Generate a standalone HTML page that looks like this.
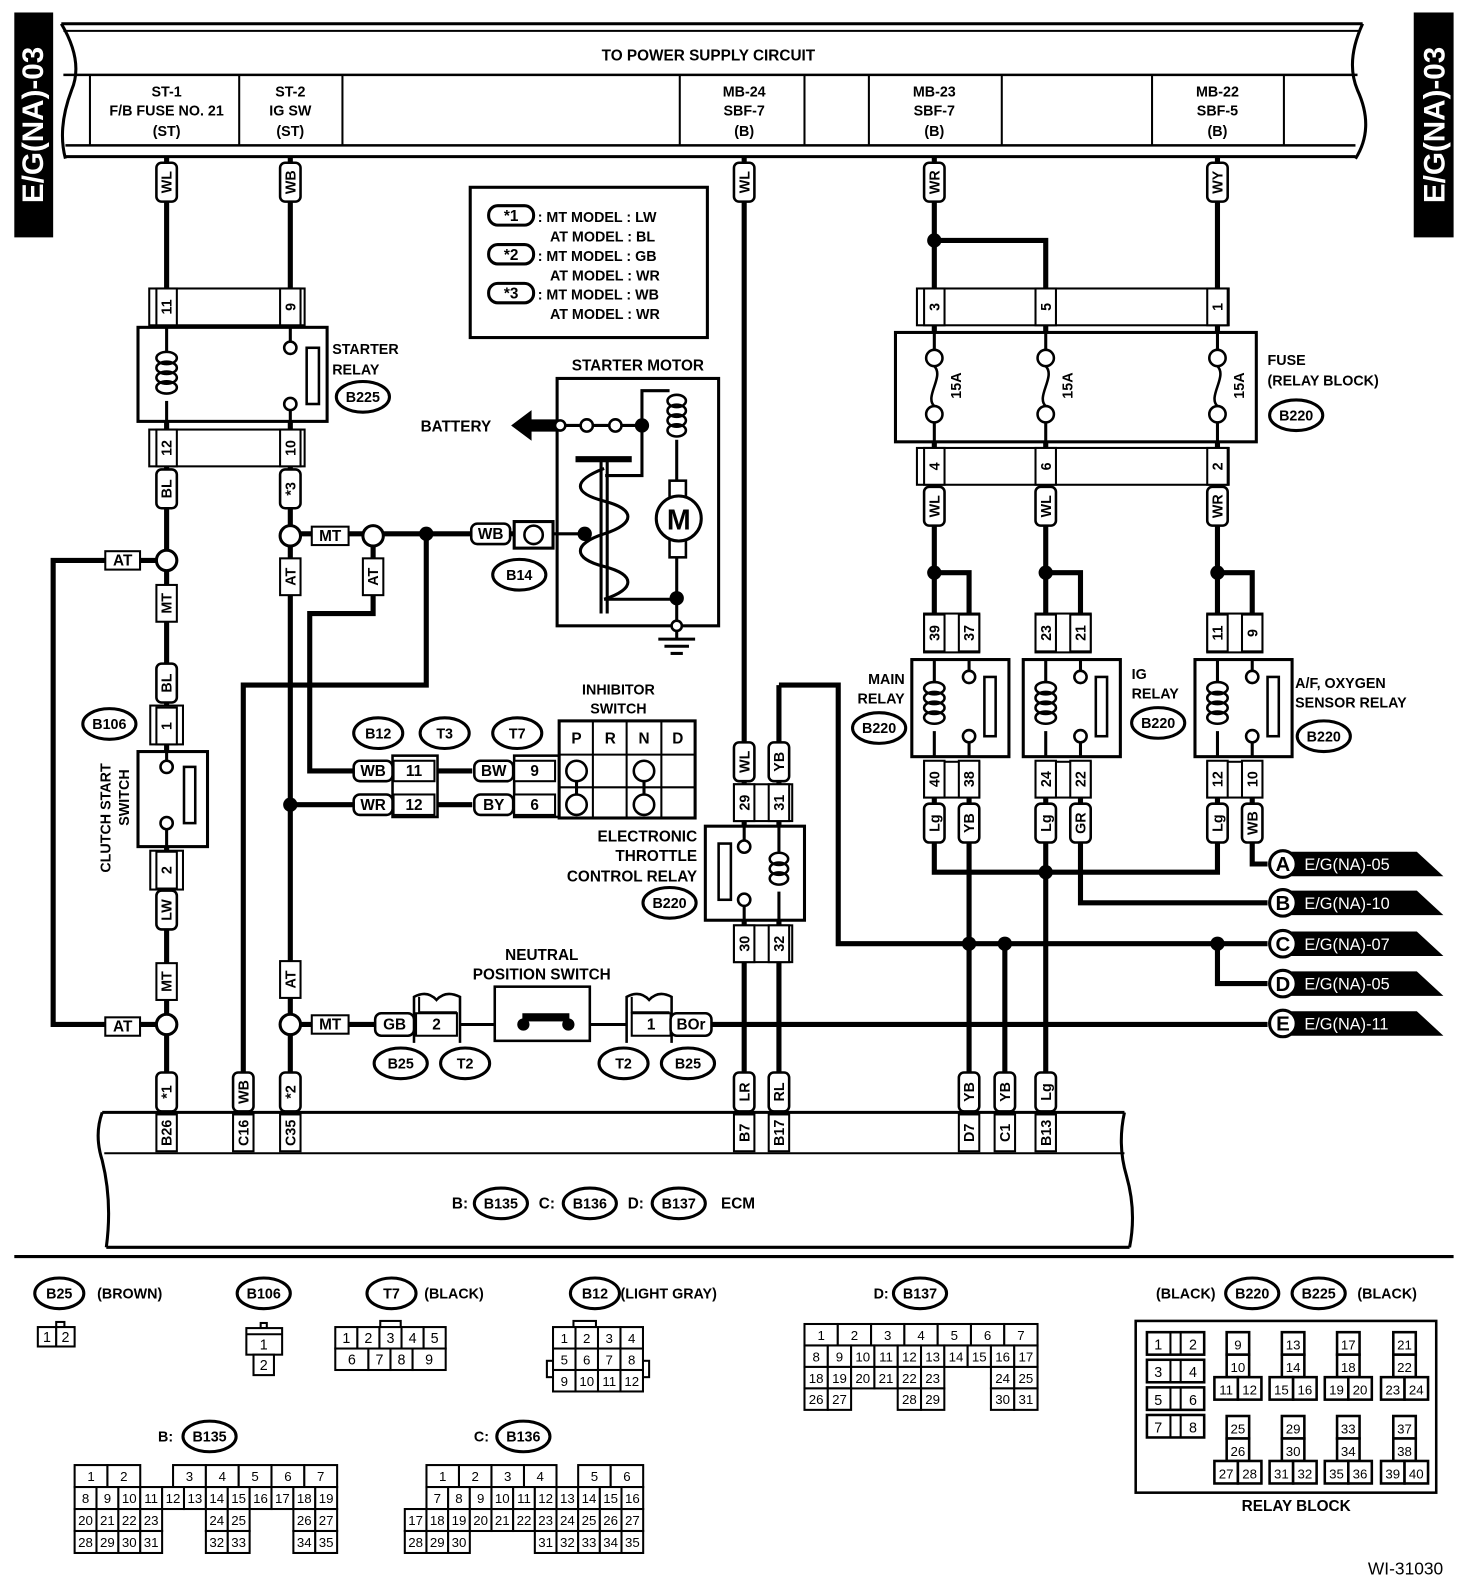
<!DOCTYPE html>
<html><head><meta charset="utf-8">
<style>
html,body{margin:0;padding:0;background:#fff;}
svg{display:block;}
text{font-family:"Liberation Sans",Arial,sans-serif;font-weight:bold;fill:#000;}
</style></head>
<body>
<svg id="s" xmlns="http://www.w3.org/2000/svg" width="1472" height="1590" viewBox="0 0 1440 1555">
<rect x="0" y="0" width="1440" height="1555" fill="#fff"/>
</svg>
<script>
const NS='http://www.w3.org/2000/svg';
const S=document.getElementById('s');
function el(t,a,txt){const e=document.createElementNS(NS,t);for(const k in a)e.setAttribute(k,a[k]);if(txt!=null)e.textContent=txt;S.appendChild(e);return e;}
function P(pts,w){el('polyline',{points:pts,fill:'none',stroke:'#000','stroke-width':w||5});}
function PA(d,w,f){el('path',{d:d,fill:f||'none',stroke:'#000','stroke-width':w||2});}
function T(x,y,t,o){el('text',Object.assign({x:x,y:y,'text-anchor':'middle','font-size':14},o||{}),t);}
function R(x,y,w,h,sw,f){el('rect',{x:x,y:y,width:w,height:h,fill:f||'#fff',stroke:'#000','stroke-width':sw==null?2:sw});}
function V(x,y,t,w,h){w=w||20;h=h||38;el('rect',{x:x-w/2,y:y-h/2,width:w,height:h,rx:5,fill:'#fff',stroke:'#000','stroke-width':2.5});el('text',{transform:'translate('+x+','+y+') rotate(-90)','text-anchor':'middle',dy:5,'font-size':14},t);}
function PV(x,y,t){R(x-10,y-18,20,36,2);el('text',{transform:'translate('+x+','+y+') rotate(-90)','text-anchor':'middle',dy:5,'font-size':14},t);}
function H(x,y,t,w,h){w=w||38;h=h||20;el('rect',{x:x-w/2,y:y-h/2,width:w,height:h,rx:6,fill:'#fff',stroke:'#000','stroke-width':2.5});T(x,y+5,t,{'font-size':15});}
function HB(x,y,t,w,h){w=w||38;h=h||20;R(x-w/2,y-h/2,w,h,2);T(x,y+5,t,{'font-size':15});}
function O(x,y,t,rx,ry){rx=rx||24;ry=ry||15;el('ellipse',{cx:x,cy:y,rx:rx,ry:ry,fill:'#fff',stroke:'#000','stroke-width':3});T(x,y+5,t,{'font-size':14});}
function D(x,y,r){el('circle',{cx:x,cy:y,r:r||7,fill:'#000'});}
function C(x,y,r,sw){el('circle',{cx:x,cy:y,r:r||10,fill:'#fff',stroke:'#000','stroke-width':sw||3});}
function coil(x,y0,n,rx,ry){for(let i=0;i<n;i++)el('ellipse',{cx:x,cy:y0+i*ry*1.6,rx:rx,ry:ry,fill:'none',stroke:'#000','stroke-width':2.5});}

/* ===== top bar ===== */
PA('M60,23 L1333,23',3);PA('M62,30 L1330,30',2);
PA('M62,73 L1328,73',2.5);PA('M64,142 L1326,142',2.5);PA('M64,153 L1326,153',3);
PA('M60,23 Q82,60 70,88 Q56,125 64,155',3);
PA('M1333,23 Q1316,60 1328,88 Q1345,125 1326,155',3);
T(693,59,'TO POWER SUPPLY CIRCUIT',{'font-size':15});
[88,234,335,665,787,850,980,1127,1256].forEach(x=>PA('M'+x+',73 L'+x+',142',2));
[[163,'ST-1','F/B FUSE NO. 21','(ST)'],[284,'ST-2','IG SW','(ST)'],[728,'MB-24','SBF-7','(B)'],[914,'MB-23','SBF-7','(B)'],[1191,'MB-22','SBF-5','(B)']].forEach(a=>{T(a[0],94,a[1]);T(a[0],113,a[2]);T(a[0],133,a[3]);});
/* side tags */
R(14,12,38,220,0,'#000');R(1383,12,39,220,0,'#000');
el('text',{transform:'translate(42,122) rotate(-90)','text-anchor':'middle','font-size':29,style:'fill:#fff'},'E/G(NA)-03');
el('text',{transform:'translate(1413,122) rotate(-90)','text-anchor':'middle','font-size':29,style:'fill:#fff'},'E/G(NA)-03');

/* ===== wires ===== */
P('163,153 163,1090');P('284,153 284,1090');P('728,153 728,1090');
P('914,153 914,600');P('1191,153 1191,600');P('914,235 1023,235 1023,600');
P('163,548 52,548 52,1002 163,1002');
P('284,522 505,522');
P('365,522 365,600 303,600 303,754 345,754');
P('417,522 417,670 238,670 238,1090');
P('284,787 345,787');
P('427,754 462,754');P('427,787 462,787');
P('284,1002 368,1002');P('450,1002 613,1002',3);P('697,1002 1240,1002');
P('762,670 762,1090');P('762,670 820,670 820,923 1240,923');
P('914,560 948,560 948,600');P('1023,560 1057,560 1057,600');P('1191,560 1225,560 1225,600');
P('914,780 914,853 1191,853 1191,780');P('1023,780 1023,1090');P('948,780 948,1090');P('983,923 983,1090');
P('1057,780 1057,883 1240,883');P('1225,780 1225,845 1240,845');P('1191,923 1191,962 1240,962');

/* ===== wire labels top ===== */
V(163,178,'WL');V(284,178,'WB');V(728,178,'WL');V(914,178,'WR');V(1191,178,'WY');

/* ===== starter relay ===== */
R(146,282,152,36,2);PV(163,300,'11');PV(284,300,'9');
R(135,320,185,92,3);
P('163,320 163,345',3);coil(163,350,4,10,6);P('163,392 163,412',3);
P('284,320 284,334',3);C(284,340,6,2.5);C(284,395,6,2.5);P('284,401 284,412',3);R(300,340,12,55,2.5);
R(146,420,152,36,2);PV(163,438,'12');PV(284,438,'10');
T(325,346,'STARTER',{'text-anchor':'start'});T(325,366,'RELAY',{'text-anchor':'start'});O(355,388,'B225',26,15);

/* legend */
R(460,183,232,147,3);
[['*1','LW','BL',212],['*2','GB','WR',250],['*3','WB','WR',288]].forEach(a=>{
 el('rect',{x:478,y:a[3]-11,width:44,height:19,rx:9,fill:'#fff',stroke:'#000','stroke-width':3});
 T(500,a[3]+4,a[0],{'font-size':15});
 T(526,a[3]+5,': MT MODEL  : '+a[1],{'text-anchor':'start','font-size':14});
 T(538,a[3]+24,'AT MODEL  : '+a[2],{'text-anchor':'start','font-size':14});
});

/* under relay */
V(163,478,'BL');V(284,478,'*3');
HB(120,548,'AT',34,18);HB(120,1004,'AT',34,18);
C(163,548);C(163,1002);C(284,524);C(365,524);C(284,1002);
HB(323,524,'MT',36,18);HB(323,1002,'MT',36,18);
el('rect',{x:274,y:546,width:20,height:36,fill:'#fff',stroke:'#000','stroke-width':2});el('text',{transform:'translate(284,564) rotate(-90)','text-anchor':'middle',dy:5,'font-size':14},'AT');
el('rect',{x:355,y:546,width:20,height:36,fill:'#fff',stroke:'#000','stroke-width':2});el('text',{transform:'translate(365,564) rotate(-90)','text-anchor':'middle',dy:5,'font-size':14},'AT');
el('rect',{x:274,y:940,width:20,height:36,fill:'#fff',stroke:'#000','stroke-width':2});el('text',{transform:'translate(284,958) rotate(-90)','text-anchor':'middle',dy:5,'font-size':14},'AT');
el('rect',{x:153,y:572,width:20,height:36,fill:'#fff',stroke:'#000','stroke-width':2});el('text',{transform:'translate(163,590) rotate(-90)','text-anchor':'middle',dy:5,'font-size':14},'MT');
el('rect',{x:153,y:942,width:20,height:36,fill:'#fff',stroke:'#000','stroke-width':2});el('text',{transform:'translate(163,960) rotate(-90)','text-anchor':'middle',dy:5,'font-size':14},'MT');
D(417,522);D(284,787);
H(480,522,'WB',38,20);
R(503,510,38,26,3);C(522,523,9,2.5);
O(508,562,'B14',26,15);

/* clutch start switch */
V(163,668,'BL');
R(147,690,32,38,2);PV(163,710,'1');
R(135,735,68,93,3);
P('163,735 163,744',3);C(163,750,6,2.5);C(163,805,6,2.5);P('163,811 163,828',3);R(180,750,11,55,2.5);
R(147,832,32,38,2);PV(163,851,'2');
V(163,890,'LW');
O(107,708,'B106',26,15);
el('text',{transform:'translate(108,800) rotate(-90)','text-anchor':'middle','font-size':14},'CLUTCH START');
el('text',{transform:'translate(126,780) rotate(-90)','text-anchor':'middle','font-size':14},'SWITCH');
V(163,1068,'*1');V(238,1068,'WB');V(284,1068,'*2');

/* starter motor */
T(624,362,'STARTER MOTOR',{'font-size':15});
R(545,370,158,242,3,'none');
el('polygon',{points:'500,416 520,401 520,410 545,410 545,422 520,422 520,431',fill:'#000'});
T(446,422,'BATTERY',{'font-size':15});
P('545,416 628,416',3);C(548,416,5,2.5);C(574,416,6,2.5);C(602,416,6,2.5);D(628,416,7);
P('628,416 628,382 655,382',3);coil(662,392,4,9,6);P('662,430 662,470',3);
R(655,470,16,75,2.5);C(664,507,22,3);T(664,518,'M',{'font-size':28});
P('662,545 662,612',3);D(662,585,7);C(662,612,5,2.5);
P('662,617 662,625',3);P('644,625 680,625',3);P('650,632 674,632',3);P('656,639 668,639',3);
P('628,416 628,465 592,465',3);
R(563,446,55,6,0,'#000');P('588,450 588,600',3);P('594,450 594,600',3);
PA('M591,458 C560,470 560,482 591,490 C622,498 622,512 591,522 C560,532 560,546 591,554 C622,562 622,576 591,586',3);
P('541,522 572,522',3);D(572,522,7);P('591,586 662,586',3);

/* inhibitor */
T(605,679,'INHIBITOR');T(605,698,'SWITCH');
O(370,717,'B12',24,15);O(435,717,'T3',24,15);O(506,717,'T7',24,15);
R(384,739,44,60,2.5);R(503,739,44,60,2.5);
H(365,754,'WB');HB(405,754,'11',40,20);H(483,754,'BW');HB(523,754,'9',40,20);
H(365,787,'WR');HB(405,787,'12',40,20);H(483,787,'BY');HB(523,787,'6',40,20);
R(547,705,133,95,3);
[580,613,647].forEach(x=>P(x+',705 '+x+',800',2));P('547,738 680,738',2);P('547,770 680,770',2);
T(564,727,'P',{'font-size':15});T(597,727,'R',{'font-size':15});T(630,727,'N',{'font-size':15});T(663,727,'D',{'font-size':15});
[564,630].forEach(x=>{C(x,754,10,2.5);C(x,787,10,2.5);P(x+',764 '+x+',777',3);});

/* ETC relay */
R(718,767,57,36,2);PV(728,785,'29');PV(762,785,'31');
V(728,745,'WL');V(762,745,'YB');
R(690,808,97,92,3);
P('728,808 728,822',3);C(728,828,6,2.5);C(728,880,6,2.5);P('728,886 728,900',3);R(703,825,12,55,2.5);
P('762,808 762,833',3);coil(762,840,3,9,6);P('762,872 762,900',3);
R(718,905,57,36,2);PV(728,923,'30');PV(762,923,'32');
T(682,823,'ELECTRONIC',{'text-anchor':'end','font-size':15});T(682,842,'THROTTLE',{'text-anchor':'end','font-size':15});T(682,862,'CONTROL RELAY',{'text-anchor':'end','font-size':15});
O(655,883,'B220',26,15);
V(728,1068,'LR');V(762,1068,'RL');

/* neutral switch */
T(530,939,'NEUTRAL',{'font-size':15});T(530,958,'POSITION SWITCH',{'font-size':15});
R(484,965,93,53,2.5);R(511,991,46,8,0,'#000');D(512,1002,6);D(556,1002,6);
PA('M405,1020 L405,975 Q418,968 427,978 Q436,968 450,975 L450,1020',2.5);
PA('M410,975 L410,990 L447,990',2);HB(427,1002,'2',40,22);
PA('M613,1020 L613,975 Q626,968 635,978 Q644,968 657,975 L657,1020',2.5);
PA('M618,975 L618,990 L655,990',2);HB(637,1002,'1',38,22);
H(386,1002,'GB',38,22);H(676,1002,'BOr',40,22);
O(392,1040,'B25',26,15);O(455,1040,'T2',24,15);O(610,1040,'T2',24,15);O(673,1040,'B25',26,15);

/* fuse relay block */
R(897,282,305,36,2);PV(914,300,'3');PV(1023,300,'5');PV(1191,300,'1');
R(876,325,353,107,3);
[914,1023,1191].forEach(x=>{P(x+',325 '+x+',342',3);C(x,350,8,2.5);PA('M'+x+',358 C'+(x+10)+',368 '+(x-10)+',388 '+x+',397',2.5);C(x,405,8,2.5);P(x+',413 '+x+',432',3);
 el('text',{transform:'translate('+(x+26)+',377) rotate(-90)','text-anchor':'middle','font-size':14},'15A');});
T(1240,357,'FUSE',{'text-anchor':'start'});T(1240,377,'(RELAY BLOCK)',{'text-anchor':'start'});O(1268,406,'B220',26,15);
R(897,438,305,36,2);PV(914,456,'4');PV(1023,456,'6');PV(1191,456,'2');
V(914,495,'WL');V(1023,495,'WL');V(1191,495,'WR');
D(914,235);D(914,560);D(1023,560);D(1191,560);

function relay(x1,x2,a,b,c,d,l1,l2){
 R(x1-10,600,(x2-x1)+20,38,2);PV(x1,619,a);PV(x2,619,b);
 R(x1-22,645,(x2-x1)+61,95,3);
 P(x1+',645 '+x1+',668',3);coil(x1,673,4,10,6);P(x1+',715 '+x1+',740',3);
 P(x2+',645 '+x2+',656',3);C(x2,662,6,2.5);C(x2,720,6,2.5);P(x2+',726 '+x2+',740',3);R(x2+15,662,11,58,2.5);
 R(x1-10,745,(x2-x1)+20,35,2);PV(x1,762,c);PV(x2,762,d);
 V(x1,805,l1);V(x2,805,l2);
}
relay(914,948,'39','37','40','38','Lg','YB');
relay(1023,1057,'23','21','24','22','Lg','GR');
relay(1191,1225,'11','9','12','10','Lg','WB');
T(885,669,'MAIN',{'text-anchor':'end'});T(885,688,'RELAY',{'text-anchor':'end'});O(860,712,'B220',26,15);
T(1107,664,'IG',{'text-anchor':'start'});T(1107,683,'RELAY',{'text-anchor':'start'});O(1133,707,'B220',26,15);
T(1267,673,'A/F, OXYGEN',{'text-anchor':'start'});T(1267,692,'SENSOR RELAY',{'text-anchor':'start'});O(1295,720,'B220',26,15);
D(1023,853);D(948,923);D(983,923);D(1191,923);
V(948,1068,'YB');V(983,1068,'YB');V(1023,1068,'Lg');

/* A-E tags */
[['A','E/G(NA)-05',845],['B','E/G(NA)-10',883],['C','E/G(NA)-07',923],['D','E/G(NA)-05',962],['E','E/G(NA)-11',1001]].forEach(a=>{
 const y=a[2];
 el('polygon',{points:(1262)+','+(y-12)+' 1386,'+(y-12)+' 1412,'+(y+12)+' 1262,'+(y+12),fill:'#000'});
 C(1255,y,13,3);T(1255,y+7,a[0],{'font-size':20});
 el('text',{x:1276,y:y+6,'font-size':16,style:'fill:#fff;font-weight:normal'},a[1]);
});

/* ECM */
PA('M100,1088 L1100,1088',3);PA('M102,1128 L1100,1128',2);PA('M104,1220 L1105,1220',3);
PA('M100,1088 Q92,1110 100,1135 Q110,1175 104,1220',3);
PA('M1100,1088 Q1093,1120 1102,1150 Q1112,1185 1105,1220',3);
[[163,'B26'],[238,'C16'],[284,'C35'],[728,'B7'],[762,'B17'],[948,'D7'],[983,'C1'],[1023,'B13']].forEach(a=>{PV(a[0],1108,a[1]);});
T(450,1182,'B:',{'font-size':15});O(490,1177,'B135',26,15);T(535,1182,'C:',{'font-size':15});O(577,1177,'B136',26,15);
T(622,1182,'D:',{'font-size':15});O(664,1177,'B137',26,15);T(722,1182,'ECM',{'font-size':15});

/* separator */
P('14,1229 1422,1229',3);

/* ===== connector legends ===== */
function tbl(x,y,u,h,rows,fs){rows.forEach((r,i)=>{let cx=x;r.forEach(c=>{const w=c[1]*u;if(c[0]!=null){R(cx,y+i*h,w,h,2);T(cx+w/2,y+i*h+h/2+5,c[0],{'font-size':fs||14,style:'font-weight:normal'});}cx+=w;});});}
O(58,1265,'B25',24,15);T(95,1270,'(BROWN)',{'text-anchor':'start'});
O(258,1265,'B106',26,15);
O(383,1265,'T7',24,15);T(415,1270,'(BLACK)',{'text-anchor':'start'});
O(582,1265,'B12',24,15);T(607,1270,'(LIGHT GRAY)',{'text-anchor':'start'});
T(862,1270,'D:');O(900,1265,'B137',26,15);
T(1160,1270,'(BLACK)',{'text-anchor':'middle'});O(1225,1265,'B220',26,15);O(1290,1265,'B225',26,15);T(1357,1270,'(BLACK)');
T(162,1410,'B:');O(205,1405,'B135',26,15);
T(471,1410,'C:');O(512,1405,'B136',26,15);

R(55,1293,8,5,2);tbl(37,1298,18,19,[[['1',1],['2',1]]]);
R(255,1294,6,5,2);R(241,1299,35,26,2);P('241,1305 276,1305',2);T(258,1320,'1',{style:'font-weight:normal'});R(248,1325,20,20,2);T(258,1340,'2',{style:'font-weight:normal'});
R(372,1292,20,7,2);tbl(328,1298,10.8,21,[[['1',2],['2',2],['3',2],['4',2],['5',2]],[['6',3],['7',2],['8',2],['9',3]]]);
R(561,1292,22,6,2);R(535,1331,6,16,2);R(629,1331,6,16,2);
tbl(541,1298,22,21,[[['1',1],['2',1],['3',1],['4',1]],[['5',1],['6',1],['7',1],['8',1]],[['9',1],['10',1],['11',1],['12',1]]],13);
tbl(787,1295,3.257,21,[
 [['1',10],['2',10],['3',10],['4',10],['5',10],['6',10],['7',10]],
 [['8',7],['9',7],['10',7],['11',7],['12',7],['13',7],['14',7],['15',7],['16',7],['17',7]],
 [['18',7],['19',7],['20',7],['21',7],['22',7],['23',7],[null,14],['24',7],['25',7]],
 [['26',7],['27',7],[null,14],['28',7],['29',7],[null,14],['30',7],['31',7]]],13);
tbl(73,1433,10.7,21.5,[
 [['1',3],['2',3],[null,3],['3',3],['4',3],['5',3],['6',3],['7',3]],
 [['8',2],['9',2],['10',2],['11',2],['12',2],['13',2],['14',2],['15',2],['16',2],['17',2],['18',2],['19',2]],
 [['20',2],['21',2],['22',2],['23',2],[null,4],['24',2],['25',2],[null,4],['26',2],['27',2]],
 [['28',2],['29',2],['30',2],['31',2],[null,4],['32',2],['33',2],[null,4],['34',2],['35',2]]],13);
tbl(396,1433,10.6,21.5,[
 [[null,2],['1',3],['2',3],['3',3],['4',3],[null,2],['5',3],['6',3]],
 [[null,2],['7',2],['8',2],['9',2],['10',2],['11',2],['12',2],['13',2],['14',2],['15',2],['16',2]],
 [['17',2],['18',2],['19',2],['20',2],['21',2],['22',2],['23',2],['24',2],['25',2],['26',2],['27',2]],
 [['28',2],['29',2],['30',2],[null,6],['31',2],['32',2],['33',2],['34',2],['35',2]]],13);

/* relay block */
R(1111,1292,294,168,2.5);
[['1','2',1303],['3','4',1330],['5','6',1357],['7','8',1384]].forEach(a=>{R(1122,a[2],56,22,2.5);P('1145,'+a[2]+' 1145,'+(a[2]+22),2);P('1155,'+a[2]+' 1155,'+(a[2]+22),2);T(1133,a[2]+17,a[0],{style:'font-weight:normal'});T(1167,a[2]+17,a[1],{style:'font-weight:normal'});});
function grp(x,y,a,b,c,d){R(x+12,y,22,22,2.5);T(x+23,y+17,a,{'font-size':13,style:'font-weight:normal'});R(x+12,y+22,22,22,2.5);T(x+23,y+39,b,{'font-size':13,style:'font-weight:normal'});R(x,y+44,23,22,2.5);T(x+11.5,y+61,c,{'font-size':13,style:'font-weight:normal'});R(x+23,y+44,23,22,2.5);T(x+34.5,y+61,d,{'font-size':13,style:'font-weight:normal'});}
grp(1188,1303,'9','10','11','12');grp(1242,1303,'13','14','15','16');grp(1296,1303,'17','18','19','20');grp(1351,1303,'21','22','23','24');
grp(1188,1385,'25','26','27','28');grp(1242,1385,'29','30','31','32');grp(1296,1385,'33','34','35','36');grp(1351,1385,'37','38','39','40');
T(1268,1478,'RELAY BLOCK',{'font-size':15});
T(1375,1540,'WI-31030',{'font-size':17,style:'font-weight:normal'});
</script>
</body></html>
